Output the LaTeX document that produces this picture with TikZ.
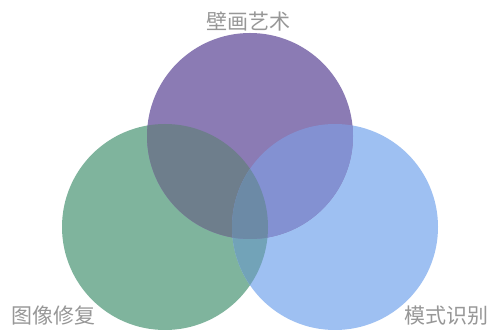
\documentclass[tikz,border=0pt]{standalone}
\usepackage{fontspec}
\newfontfamily\cjk{Noto Sans CJK SC}
\definecolor{cP}{HTML}{8B7BB4}
\definecolor{cG}{HTML}{7FB49D}
\definecolor{cB}{HTML}{9EC0F2}
\definecolor{cPG}{HTML}{6E7E8C}
\definecolor{cPB}{HTML}{8391D2}
\definecolor{cGB}{HTML}{72A3B8}
\definecolor{cPGB}{HTML}{6C8AA6}
\definecolor{txt}{HTML}{979797}
\begin{document}
\begin{tikzpicture}[x=1pt,y=1pt,
  lbl/.style={font=\cjk\fontsize{21}{21}\selectfont, text=txt, inner sep=0pt},
  circ/.style={circle, minimum size=206pt, inner sep=0pt, draw=none}]
\useasboundingbox (0,0) rectangle (495,331);
\fill[white] (0,0) rectangle (495,331);
\def\rr{103}
\node[circ, fill=cG] (G) at (165,104) {};
\node[circ, fill=cB] (B) at (335,104) {};
\node[circ, fill=cP] (P) at (250,195) {};
\begin{scope}
  \clip (G.center) circle (\rr);
  \fill[cGB] (B.center) circle (\rr);
  \fill[cPG] (P.center) circle (\rr);
\end{scope}
\begin{scope}
  \clip (B.center) circle (\rr);
  \fill[cPB] (P.center) circle (\rr);
\end{scope}
\begin{scope}
  \clip (G.center) circle (\rr);
  \clip (B.center) circle (\rr);
  \fill[cPGB] (P.center) circle (\rr);
\end{scope}
\node[lbl] (tP) at (248,310) {壁画艺术};
\node[lbl] (tG) at (53,15) {图像修复};
\node[lbl] (tB) at (446,15) {模式识别};
\end{tikzpicture}
\end{document}
